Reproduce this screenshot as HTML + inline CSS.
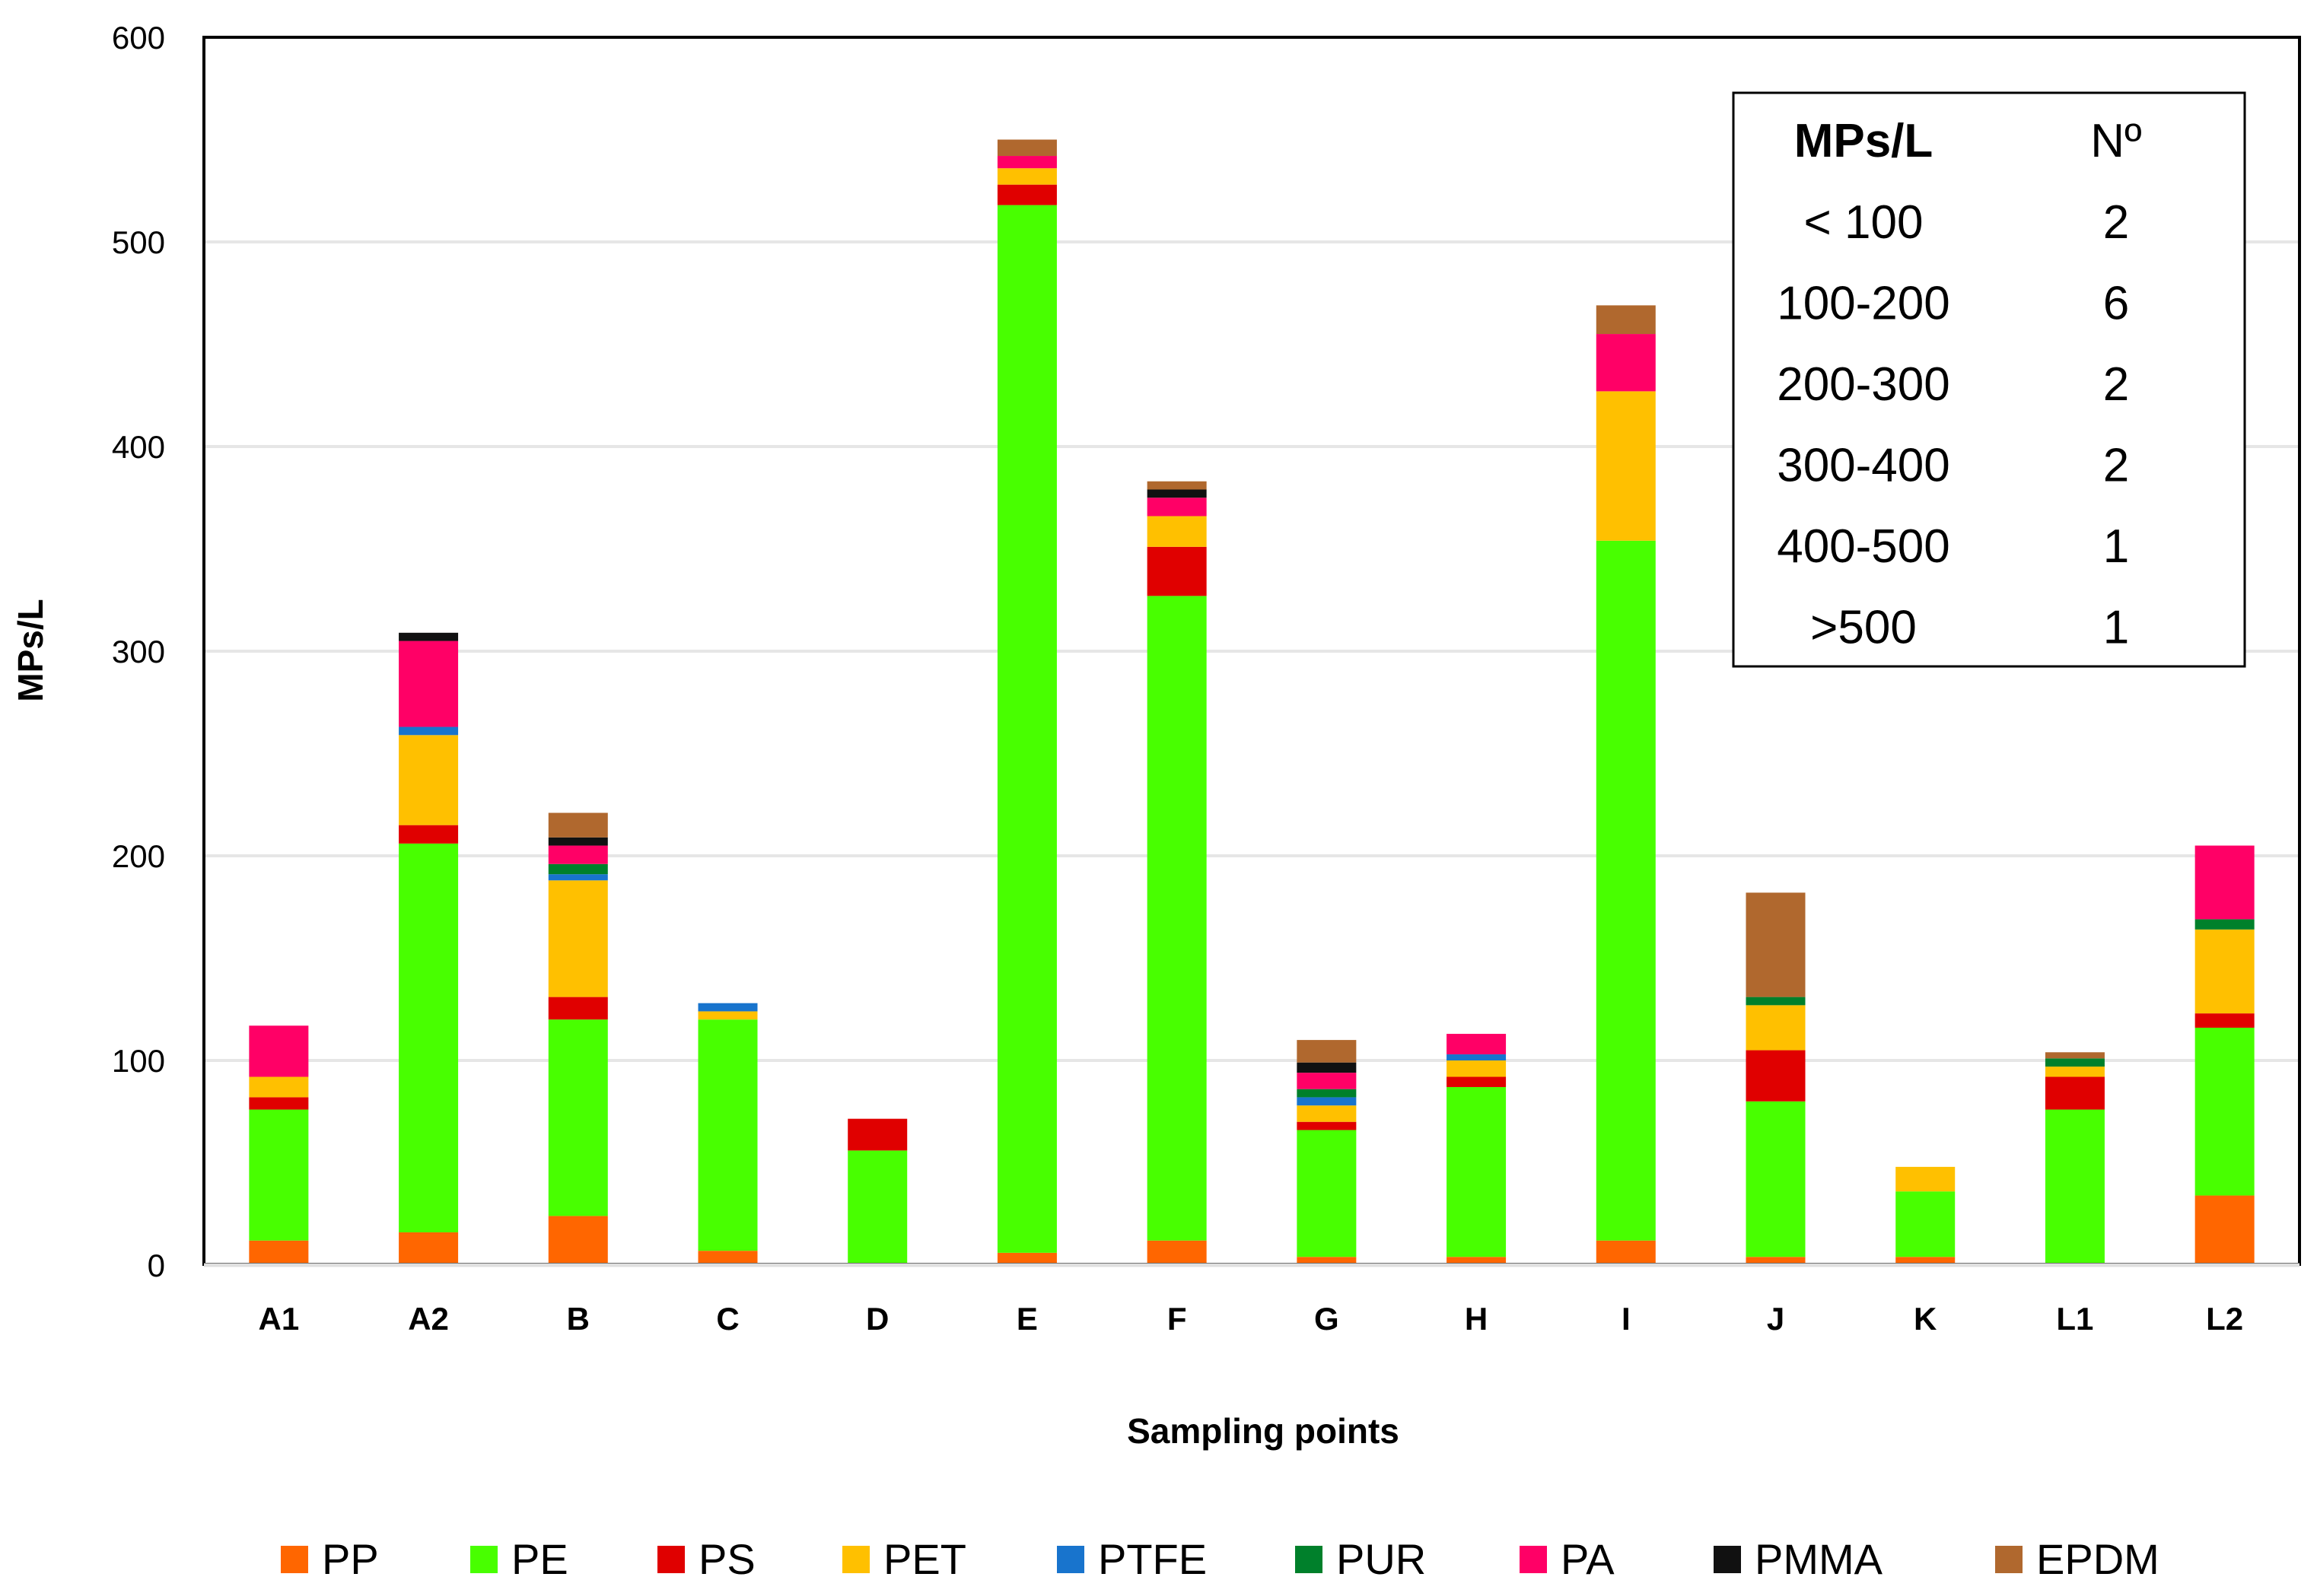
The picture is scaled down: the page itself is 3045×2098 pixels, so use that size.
<!DOCTYPE html>
<html><head><meta charset="utf-8">
<style>html,body{margin:0;padding:0;background:#fff}svg{display:block}text{font-family:"Liberation Sans","DejaVu Sans",sans-serif}</style>
</head><body>
<svg id="chart" width="3045" height="2098" viewBox="0 0 3045 2098" xmlns="http://www.w3.org/2000/svg">
<g id="grid"></g>
<g id="bars"></g>
<rect x="268" y="49" width="2754" height="1613" fill="none" stroke="#000" stroke-width="4"/>
<line x1="268" y1="1663" x2="3022" y2="1663" stroke="#e0e0e0" stroke-width="5"/>
<g id="yticks"></g>
<g id="xticks"></g>
<text x="44" y="855" transform="rotate(-90 44 855)" text-anchor="middle" font-size="46" font-weight="bold" dominant-baseline="middle">MPs/L</text>
<text x="1660" y="1897" text-anchor="middle" font-size="46" font-weight="bold">Sampling points</text>
<g id="legend"></g>
<g>
<rect x="2278" y="122" width="672" height="754" fill="#fff" stroke="#000" stroke-width="3"/>
<g id="table" font-size="62" text-anchor="middle"></g>
</g>
</svg>
<script>
const categories=["A1","A2","B","C","D","E","F","G","H","I","J","K","L1","L2"];
const seriesNames=["PP","PE","PS","PET","PTFE","PUR","PA","PMMA","EPDM"];
const seriesColors=["#ff6600","#48ff00","#e00000","#ffc000","#1874cd","#00802b","#ff0066","#111111","#b0682e"];
const PP  =[12,16,24,7,0,6,12,4,4,12,4,4,0,34];
const PE  =[64,190,96,113,56,512,315,62,83,342,76,32,76,82];
const PS  =[6,9,11,0,15.5,10,24,4,5,0,25,0,16,7];
const PET =[10,44,57,4,0,8,15,8,8,73,22,12,5,41];
const PTFE=[0,4,3,4,0,0,0,4,3,0,0,0,0,0];
const PUR =[0,0,5,0,0,0,0,4,0,0,4,0,4,5];
const PA  =[25,42,9,0,0,6,9,8,10,28,0,0,0,36];
const PMMA=[0,4,4,0,0,0,4,5,0,0,0,0,0,0];
const EPDM=[0,0,12,0,0,8,4,11,0,14,51,0,3,0];
const yTicks=[0,100,200,300,400,500,600];
const tableRanges=["< 100","100-200","200-300","300-400","400-500",">500"];
const tableCounts=[2,6,2,2,1,1];

const series=[PP,PE,PS,PET,PTFE,PUR,PA,PMMA,EPDM];
const NS="http://www.w3.org/2000/svg";
const X0=268,X1=3022,Y0=1663,YTOP=49,YMAX=600;
const y=v=>Y0-(v/YMAX)*(Y0-YTOP);
const step=(X1-X0)/categories.length;
const xc=i=>X0+step*(i+0.5);
const BW=78;
function mk(tag,attrs,parent){const e=document.createElementNS(NS,tag);for(const k in attrs)e.setAttribute(k,attrs[k]);parent.appendChild(e);return e;}
const grid=document.getElementById('grid'),yt=document.getElementById('yticks');
yTicks.forEach(t=>{
  if(t>0&&t<600){const l=mk('line',{x1:X0,x2:X1,y1:y(t),y2:y(t),stroke:'#e6e6e6','stroke-width':4},grid);
  
  }
  const tx=mk('text',{x:217,y:y(t)+15,'text-anchor':'end','font-size':42},yt);tx.textContent=t;
  
  
});
const bars=document.getElementById('bars'),xt=document.getElementById('xticks');
categories.forEach((c,i)=>{
  let cum=0;
  series.forEach((s,k)=>{
    const v=s[i];if(v<=0)return;
    const r=mk('rect',{x:xc(i)-BW/2,y:y(cum+v),width:BW,height:y(cum)-y(cum+v),fill:seriesColors[k]},bars);
    
    
    cum+=v;
  });
  const t=mk('text',{x:xc(i),y:1748,'text-anchor':'middle','font-size':42,'font-weight':'bold'},xt);t.textContent=c;
  
  
});
const lg=document.getElementById('legend');
const lgX=[369,618,864,1107,1389,1702,1997,2252,2622];
seriesNames.forEach((n,k)=>{
  const g=mk('g',{},lg);
  
  
  mk('rect',{x:lgX[k],y:2032,width:36,height:36,fill:seriesColors[k]},g);
  const t=mk('text',{x:lgX[k]+54,y:2069,'font-size':56},g);t.textContent=n;
});
const tb=document.getElementById('table');
const h1=mk('text',{x:2449,y:206,'font-weight':'bold'},tb);h1.textContent='MPs/L';


const h2=mk('text',{x:2781,y:206},tb);h2.textContent='Nº';


tableRanges.forEach((r,i)=>{
  const yy=313+i*106.5;
  const a=mk('text',{x:2449,y:yy},tb);a.textContent=r;
  
  
  const b=mk('text',{x:2781,y:yy},tb);b.textContent=tableCounts[i];
  
  
});
</script>
</body></html>
